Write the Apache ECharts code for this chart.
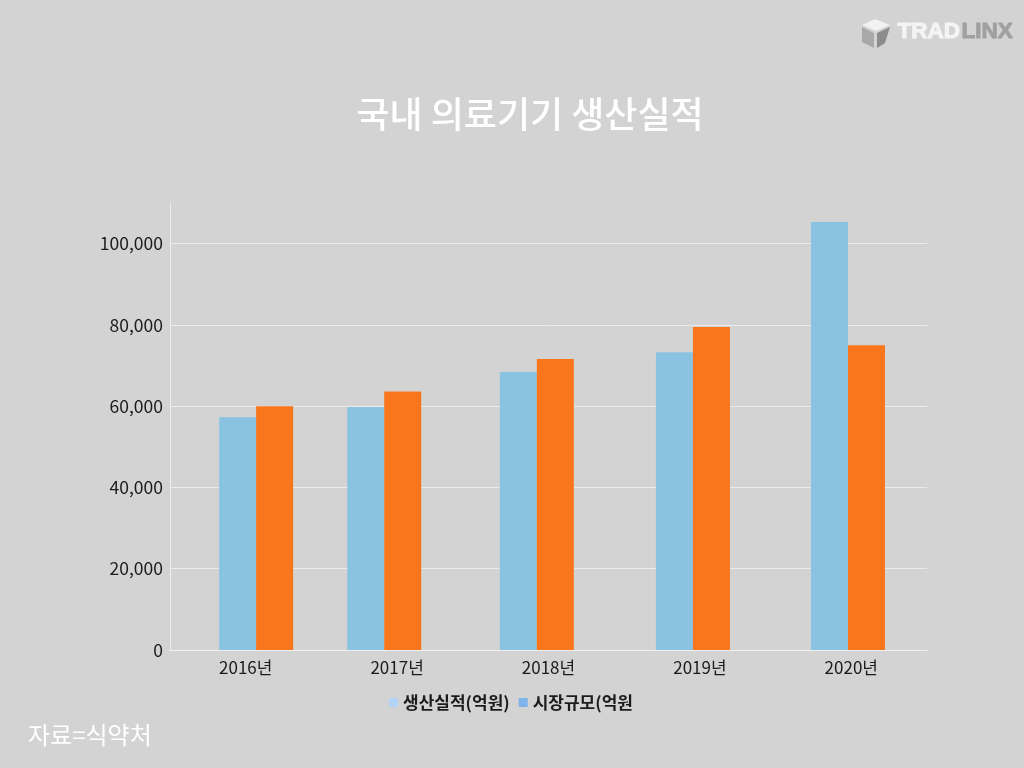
<!DOCTYPE html>
<html>
<head>
<meta charset="utf-8">
<style>
  html, body { margin: 0; padding: 0; background: #d3d3d3; }
  #chart { width: 1024px; height: 768px; }
</style>
<script src="https://cdn.jsdelivr.net/npm/echarts@6/dist/echarts.min.js"></script>
</head>
<body>
<div id="chart"></div>
<script>
var years = ['2016년', '2017년', '2018년', '2019년', '2020년'];
var production = [57300, 59800, 68400, 73300, 105300];
var market = [60000, 63600, 71600, 79500, 75000];
var seriesNames = ['생산실적(억원)', '시장규모(억원'];

// 막대가 라벨 중앙에서 조금씩 어긋나 있음 (카테고리 폭 기준)
var barShift = [0.069, -0.085, -0.077, -0.046, -0.022];

var FONT = '"Noto Sans CJK KR", "Noto Sans", sans-serif';

function toPairs(values) {
    return values.map(function (v, i) {
        return [i + 0.5 + barShift[i], v];
    });
}

var chart = echarts.init(document.getElementById('chart'));
chart.setOption({
    animation: false,
    backgroundColor: '#d3d3d3',
    title: {
        text: '국내 의료기기 생산실적',
        left: 525,
        top: 91,
        textAlign: 'center',
        textStyle: { color: '#ffffff', fontFamily: FONT, fontSize: 36, fontWeight: 500 }
    },
    legend: {
        left: 384,
        top: 689,
        itemWidth: 9,
        itemHeight: 9,
        itemGap: 9,
        icon: 'rect',
        textStyle: { color: '#1c1c1c', fontFamily: FONT, fontSize: 17, fontWeight: 'bold' },
        data: [
            { name: seriesNames[0], itemStyle: { color: '#b3d4f5' } },
            { name: seriesNames[1], itemStyle: { color: '#7fb3ec' } }
        ]
    },
    grid: { left: 170, right: 97, top: 203, bottom: 118 },
    xAxis: [{
        type: 'category',
        data: years,
        axisLine: { lineStyle: { color: '#f0f0f0', width: 1 } },
        axisTick: { show: false },
        axisLabel: { color: '#1c1c1c', fontFamily: FONT, fontSize: 17, margin: 9 }
    }, {
        type: 'value',
        min: 0,
        max: 5,
        show: false
    }],
    yAxis: {
        type: 'value',
        min: 0,
        max: 110000,
        interval: 20000,
        axisLine: { show: true, lineStyle: { color: '#ebebeb', width: 1 } },
        axisTick: { show: false },
        splitLine: { showMaxLine: false, lineStyle: { color: '#ebebeb', width: 1 } },
        axisLabel: {
            color: '#1c1c1c',
            fontFamily: FONT,
            fontSize: 17.5,
            margin: 7,
            showMaxLabel: false,
            formatter: function (v) { return v.toLocaleString('en-US'); }
        }
    },
    series: [{
        name: seriesNames[0],
        type: 'bar',
        xAxisIndex: 1,
        barWidth: 37,
        barGap: '0%',
        itemStyle: { color: '#8ac3e2' },
        data: toPairs(production)
    }, {
        name: seriesNames[1],
        type: 'bar',
        xAxisIndex: 1,
        barWidth: 37,
        barGap: '0%',
        itemStyle: { color: '#f9761c' },
        data: toPairs(market)
    }],
    graphic: [{
        type: 'text',
        left: 28,
        top: 723,
        style: { text: '자료=식약처', fill: '#ffffff', font: '24px ' + FONT }
    }, {
        // 로고
        type: 'polygon',
        shape: { points: [[862, 25], [875, 19], [890, 25], [876, 31]] },
        style: { fill: '#f2f2f2' }
    }, {
        type: 'polygon',
        shape: { points: [[862, 27], [874, 33], [874, 48], [862, 42]] },
        style: { fill: '#a8a8a8' }
    }, {
        type: 'polygon',
        shape: { points: [[877, 33], [890, 27], [885, 43], [877, 48]] },
        style: { fill: '#8c8c8c' }
    }, {
        type: 'text',
        left: 897,
        top: 20,
        style: { text: 'TRAD', fill: '#f4f4f4', font: '900 22.5px "Liberation Sans", sans-serif', stroke: '#f4f4f4', lineWidth: 1 }
    }, {
        type: 'text',
        left: 961,
        top: 20,
        style: { text: 'LINX', fill: '#a0a0a0', font: '900 22.5px "Liberation Sans", sans-serif', stroke: '#a0a0a0', lineWidth: 1 }
    }]
});
</script>
</body>
</html>
